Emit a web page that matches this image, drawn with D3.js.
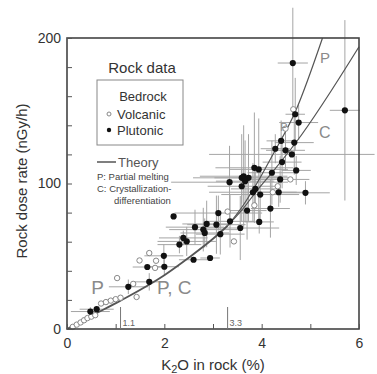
<!DOCTYPE html>
<html>
<head>
<meta charset="utf-8">
<script src="https://cdn.jsdelivr.net/npm/d3@7"></script>
<style>
  body { margin: 0; background: #fff; }
  svg { font-family: "Liberation Sans", Arial, sans-serif; }
</style>
</head>
<body>
<svg id="chart" width="377" height="374"></svg>
<script>
// K2O (%), dose rate (nGy/h), x error, y error
const plutonic = [
  [0.48, 12, 0.4, 3], [0.61, 13.6, 0.35, 0], [1.26, 29, 0.4, 5], [1.65, 42.6, 0.3, 0],
  [1.69, 32.4, 0.3, 6], [1.99, 50.3, 0.4, 8], [2.0, 42.8, 0.3, 6], [2.19, 77.4, 0, 0],
  [2.31, 58, 0.45, 6], [2.39, 62.6, 0.5, 5], [2.46, 60.2, 0.6, 10], [2.63, 70, 0.6, 12],
  [2.8, 68.3, 0.7, 15], [2.83, 66, 0.5, 10], [2.87, 72.2, 0.5, 16], [3.07, 71.7, 0.6, 20],
  [3.11, 79.7, 0.9, 12], [3.15, 65.2, 0.5, 14], [2.6, 47.6, 0.3, 0], [2.94, 48.8, 0.2, 0],
  [3.34, 100.9, 1.2, 25], [3.35, 74, 0.5, 18], [3.56, 69.4, 0.8, 22], [3.59, 103.9, 1.0, 30],
  [3.7, 81.4, 0.4, 20], [3.95, 73.6, 0.3, 8], [4.18, 82.8, 0.4, 20], [3.97, 92.4, 0.8, 18],
  [3.82, 94, 0.9, 20], [4.35, 94, 0.5, 10], [4.9, 93.6, 0.5, 8], [3.63, 105, 0.9, 35],
  [3.73, 103.9, 0.7, 30], [3.66, 101.6, 0.6, 28], [3.85, 110.8, 0.8, 38], [3.94, 109.7, 0.6, 35],
  [4.21, 107.4, 0.5, 22], [4.42, 114.7, 0.4, 18], [4.62, 120, 1.7, 0], [4.49, 122.8, 0.4, 14],
  [4.28, 123.9, 0.3, 10], [4.4, 129.3, 0.3, 14], [4.67, 128.1, 0.4, 22], [4.71, 109, 0.3, 10],
  [4.69, 147.6, 0.2, 25], [4.76, 141.9, 0.4, 12], [4.64, 182.8, 0.31, 38], [5.71, 150.3, 0.31, 62],
  [4.38, 102.8, 0.6, 16], [3.87, 96.3, 0.5, 14], [3.59, 98.1, 0.7, 12]
];
const volcanic = [
  [0.12, 1.5], [0.2, 3], [0.28, 4.5], [0.35, 6], [0.42, 7.5], [0.5, 8.5], [0.58, 9.5],
  [0.7, 17.5], [0.8, 18.5], [0.9, 19.5], [1.0, 20.5], [1.1, 21.5],
  [1.03, 35], [1.43, 22], [1.36, 31], [1.49, 47.1], [1.69, 52.2], [1.83, 46.9], [1.81, 42],
  [3.3, 80.7], [3.43, 60.2], [3.85, 85], [4.23, 94], [4.49, 137.7], [4.59, 102.8],
  [4.33, 98.1], [4.65, 151]
];
const theoryBase = [[0, 0], [0.5, 9], [1.1, 19.5], [2, 37], [2.5, 49], [3, 62], [3.3, 71]];
const theoryP = [[3.3, 71], [3.6, 84], [3.9, 100], [4.2, 118], [4.7, 150], [5.25, 200]];
const theoryC = [[3.3, 71], [3.6, 82], [3.9, 95], [4.2, 107], [4.7, 128], [6, 194]];
const xTicks = [0, 1, 2, 3, 4, 5, 6];
const yTicks = [0, 20, 40, 60, 80, 100, 120, 140, 160, 180, 200];
const markers = [[1.1, "1.1"], [3.3, "3.3"]];

const svg = d3.select("#chart");
const x = d3.scaleLinear().domain([0, 6]).range([67, 359]);
const y = d3.scaleLinear().domain([0, 200]).range([329, 38]);

// error bars (drawn first, grey)
const bars = svg.append("g").attr("stroke", "#a5a5a5").attr("stroke-width", 1);
plutonic.forEach(d => {
  if (d[2] > 0) bars.append("line")
    .attr("x1", Math.max(0, x(d[0] - d[2]))).attr("x2", Math.min(377, x(d[0] + d[2])))
    .attr("y1", y(d[1])).attr("y2", y(d[1]));
  if (d[3] > 0) bars.append("line")
    .attr("x1", x(d[0])).attr("x2", x(d[0]))
    .attr("y1", y(d[1] + d[3])).attr("y2", y(d[1] - d[3]));
});

// theory curves
const line = d3.line().x(d => x(d[0])).y(d => y(d[1])).curve(d3.curveMonotoneX);
[theoryBase, theoryP, theoryC].forEach((pts, i) => {
  svg.append("path").attr("d", line(pts))
    .attr("fill", "none").attr("stroke", "#555").attr("stroke-width", i === 0 ? 1.8 : 1.2);
});

// points
svg.append("g").selectAll("circle").data(volcanic).enter().append("circle")
  .attr("cx", d => x(d[0])).attr("cy", d => y(d[1])).attr("r", 2.7)
  .attr("fill", "#fff").attr("stroke", "#888").attr("stroke-width", 1);
svg.append("g").selectAll("circle").data(plutonic).enter().append("circle")
  .attr("cx", d => x(d[0])).attr("cy", d => y(d[1])).attr("r", 3.1)
  .attr("fill", "#111");

// frame
svg.append("rect").attr("x", 67).attr("y", 38).attr("width", 292).attr("height", 291)
  .attr("fill", "none").attr("stroke", "#444").attr("stroke-width", 1.6);

// axes with inward ticks
const xAxis = svg.append("g").attr("transform", "translate(0,329)")
  .call(d3.axisBottom(x).tickValues(xTicks).tickSizeInner(-5).tickSizeOuter(0).tickPadding(9)
    .tickFormat(d => d % 2 === 0 ? d : ""));
const yAxis = svg.append("g").attr("transform", "translate(67,0)")
  .call(d3.axisLeft(y).tickValues(yTicks).tickSizeInner(-5).tickSizeOuter(0).tickPadding(6)
    .tickFormat(d => d % 100 === 0 ? d : ""));
[xAxis, yAxis].forEach(a => {
  a.select(".domain").remove();
  a.selectAll("line").attr("stroke", "#555");
  a.selectAll("text").attr("font-size", 14).attr("fill", "#333")
    .attr("font-family", "Liberation Sans, Arial, sans-serif");
});

// 1.1 / 3.3 markers
markers.forEach(m => {
  svg.append("line").attr("x1", x(m[0])).attr("x2", x(m[0]))
    .attr("y1", 329).attr("y2", 307).attr("stroke", "#777").attr("stroke-width", 1);
  svg.append("text").attr("x", x(m[0]) + 2).attr("y", 326)
    .attr("font-size", 9).attr("fill", "#666").text(m[1]);
});

// axis titles
svg.append("text").attr("x", 213).attr("y", 370).attr("text-anchor", "middle")
  .attr("font-size", 15).attr("fill", "#333")
  .html('K<tspan font-size="11" dy="3">2</tspan><tspan dy="-3">O in rock (%)</tspan>');
svg.append("text").attr("transform", "translate(27,181) rotate(-90)")
  .attr("text-anchor", "middle").attr("font-size", 15).attr("fill", "#333")
  .text("Rock dose rate (nGy/h)");

// curve labels
const lab = (px, py, t, s) => svg.append("text").attr("x", x(px)).attr("y", y(py))
  .attr("font-size", s).attr("fill", "#8a8a8a").text(t);
lab(0.5, 24, "P", 19);
lab(1.85, 24, "P, C", 19);
lab(5.2, 183, "P", 15);
lab(5.18, 131, "C", 16);
lab(4.38, 136, "P", 11);

// legend
svg.append("text").attr("x", 142).attr("y", 73).attr("text-anchor", "middle")
  .attr("font-size", 15).attr("fill", "#333").text("Rock data");
svg.append("rect").attr("x", 97).attr("y", 80).attr("width", 86).attr("height", 65)
  .attr("fill", "#fff").attr("stroke", "#888").attr("stroke-width", 1);
svg.append("text").attr("x", 143).attr("y", 101).attr("text-anchor", "middle")
  .attr("font-size", 13).attr("fill", "#333").text("Bedrock");
svg.append("circle").attr("cx", 109).attr("cy", 114).attr("r", 2)
  .attr("fill", "#fff").attr("stroke", "#888");
svg.append("text").attr("x", 117).attr("y", 119).attr("font-size", 13).attr("fill", "#333").text("Volcanic");
svg.append("circle").attr("cx", 109).attr("cy", 130).attr("r", 2.2).attr("fill", "#111");
svg.append("text").attr("x", 117).attr("y", 135).attr("font-size", 13).attr("fill", "#333").text("Plutonic");
svg.append("line").attr("x1", 97).attr("x2", 116).attr("y1", 162).attr("y2", 162)
  .attr("stroke", "#555").attr("stroke-width", 1.5);
svg.append("text").attr("x", 118).attr("y", 167).attr("font-size", 13).attr("fill", "#555").text("Theory");
svg.append("text").attr("x", 97).attr("y", 180).attr("font-size", 9.5).attr("fill", "#444").text("P: Partial melting");
svg.append("text").attr("x", 97).attr("y", 192).attr("font-size", 9.5).attr("fill", "#444").text("C: Crystallization-");
svg.append("text").attr("x", 114).attr("y", 204).attr("font-size", 9.5).attr("fill", "#444").text("differentiation");
</script>
</body>
</html>
